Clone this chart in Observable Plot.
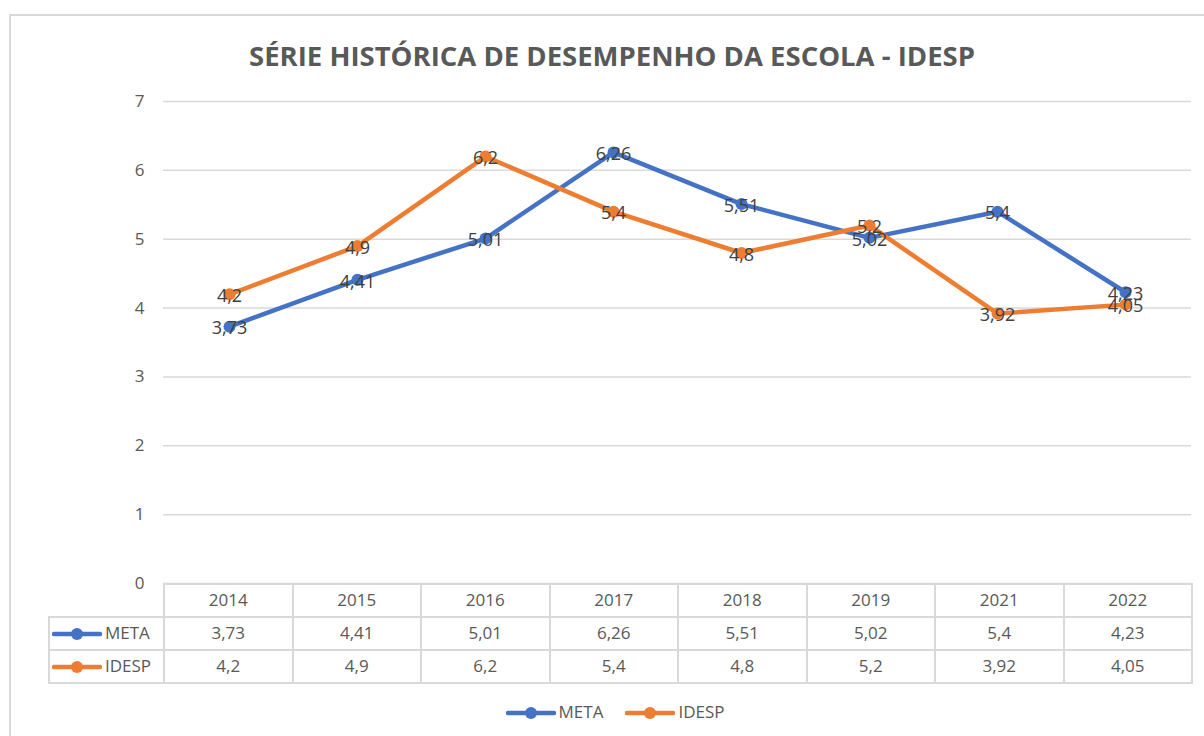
<!DOCTYPE html>
<html>
<head>
<meta charset="utf-8">
<script src="https://cdn.jsdelivr.net/npm/d3@7"></script>
<script src="https://cdn.jsdelivr.net/npm/@observablehq/plot@0.6"></script>
<style>
  html, body { margin:0; padding:0; background:#fff; }
  body { width:1204px; height:736px; overflow:hidden; position:relative; font-family:"Open Sans", sans-serif; color:#595959; }
  #frame { position:absolute; left:9px; top:14px; width:1260px; height:800px; border:2px solid #d9d9d9; box-sizing:border-box; }
  #title { position:absolute; left:612px; top:37px; transform:translateX(-50%); white-space:nowrap; font-size:27.5px; font-weight:700; color:#595959; }
  #chart { position:absolute; left:0; top:0; }
  #tbl { position:absolute; left:48px; top:583px; border-collapse:collapse; table-layout:fixed; font-size:17px; color:#595959; }
  #tbl td { border:2px solid #d9d9d9; text-align:center; padding:0 0 2px 0; height:29px; }
  #tbl td.blank { border-top:none; border-left:none; }
  #tbl td.lab { text-align:left; white-space:nowrap; padding-left:2px; }
  .icon { vertical-align:middle; margin-right:3px; }
  #legend { position:absolute; top:700px; left:0; width:1230px; text-align:center; font-size:17px; color:#595959; white-space:nowrap; }
  #legend span.item { margin:0 11px; }
</style>
</head>
<body>
<div id="frame"></div>
<div id="title"></div>
<div id="chart"></div>
<table id="tbl"></table>
<div id="legend"></div>
<script>
const title = "SÉRIE HISTÓRICA DE DESEMPENHO DA ESCOLA - IDESP";
const years = ["2014", "2015", "2016", "2017", "2018", "2019", "2021", "2022"];
const meta = [3.73, 4.41, 5.01, 6.26, 5.51, 5.02, 5.4, 4.23];
const idesp = [4.2, 4.9, 6.2, 5.4, 4.8, 5.2, 3.92, 4.05];
const seriesNames = ["META", "IDESP"];
const seriesColors = ["#4472C4", "#ED7D31"];
const yTicks = [0, 1, 2, 3, 4, 5, 6, 7];

const seriesValues = [meta, idesp];
const fmt = v => String(v).replace(".", ",");
const data = seriesNames.flatMap((s, i) => years.map((y, j) => ({series: s, year: y, value: seriesValues[i][j]})));

document.getElementById("title").textContent = title;

const chart = Plot.plot({
  width: 1204,
  height: 600,
  marginLeft: 163,
  marginRight: 13,
  marginTop: 101,
  marginBottom: 17,
  style: {fontFamily: "'Open Sans', sans-serif", background: "transparent", overflow: "visible"},
  x: {type: "point", domain: years, padding: 0.5, axis: null},
  y: {domain: [0, 7]},
  color: {domain: seriesNames, range: seriesColors},
  marks: [
    Plot.gridY(yTicks, {stroke: "#d9d9d9", strokeOpacity: 1, strokeWidth: 1.5}),
    Plot.axisY(yTicks, {tickSize: 0, tickPadding: 19, fontSize: 17, fill: "#595959", label: null, tickFormat: d => String(d)}),
    ...seriesNames.flatMap(s => [
      Plot.line(data.filter(d => d.series === s), {x: "year", y: "value", stroke: "series", strokeWidth: 4.5, strokeLinejoin: "round", strokeLinecap: "round"}),
      Plot.dot(data.filter(d => d.series === s), {x: "year", y: "value", fill: "series", r: 6})
    ]),
    Plot.text(data, {x: "year", y: "value", text: d => fmt(d.value), fontSize: 18, fill: "#404040", dy: 2})
  ]
});
document.getElementById("chart").appendChild(chart);

// data table
const icon = c => `<svg class="icon" width="50" height="14"><line x1="2" y1="7" x2="48" y2="7" stroke="${c}" stroke-width="4.5" stroke-linecap="round"/><circle cx="25" cy="7" r="6" fill="${c}"/></svg>`;
const tbl = document.getElementById("tbl");
let html = `<colgroup><col style="width:115px">${years.map(() => '<col style="width:128.5px">').join("")}</colgroup>`;
html += `<tr><td class="blank"></td>${years.map(y => `<td>${y}</td>`).join("")}</tr>`;
seriesNames.forEach((s, i) => {
  html += `<tr><td class="lab">${icon(seriesColors[i])}${s}</td>${seriesValues[i].map(v => `<td>${fmt(v)}</td>`).join("")}</tr>`;
});
tbl.innerHTML = html;

// legend
document.getElementById("legend").innerHTML = seriesNames.map((s, i) => `<span class="item">${icon(seriesColors[i])}${s}</span>`).join("");
</script>
</body>
</html>
